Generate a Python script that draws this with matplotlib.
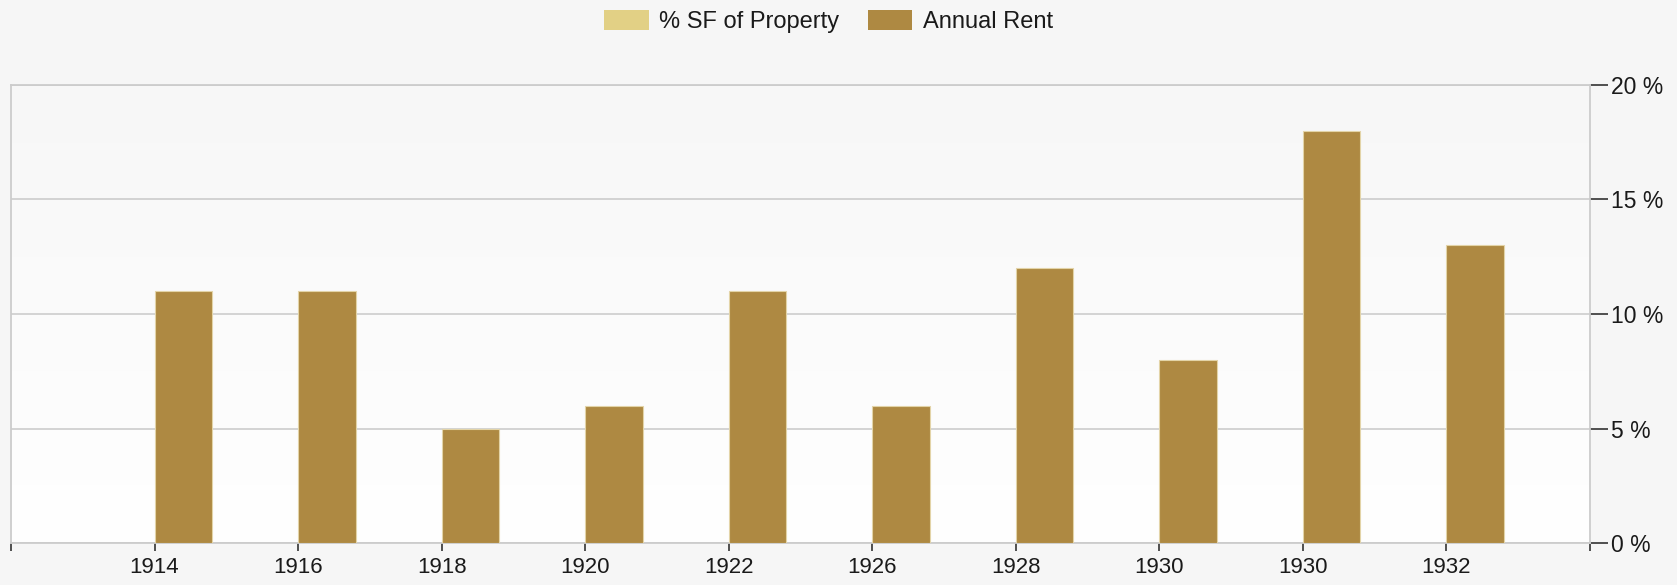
import numpy as np
import matplotlib.pyplot as plt
from matplotlib.patches import Patch
from matplotlib.colors import LinearSegmentedColormap

plt.rcParams['font.family'] = ['Liberation Sans', 'DejaVu Sans']

# Data
years = ['1914', '1916', '1918', '1920', '1922', '1926', '1928', '1930', '1930', '1932']
sf_of_property = [0, 0, 0, 0, 0, 0, 0, 0, 0, 0]
annual_rent = [11, 11, 5, 6, 11, 6, 12, 8, 18, 13]

sf_color = '#e2d085'
rent_color = '#ae8942'

fig = plt.figure(figsize=(16.77, 5.85), dpi=100, facecolor='#f6f6f6')
ax = fig.add_axes([11 / 1677, 42 / 585, 1579 / 1677, 458 / 585])

x = np.arange(len(years))
w = 0.4

# light vertical gradient background in plot area
grad = np.linspace(0, 1, 256).reshape(-1, 1)
bg = LinearSegmentedColormap.from_list('bg', ['#ffffff', '#f7f7f7'])
ax.imshow(grad, extent=[-1, 10, 0, 20], aspect='auto', cmap=bg, origin='lower', zorder=0)

ax.bar(x - w, sf_of_property, width=w, align='edge', color=sf_color, zorder=3)
ax.bar(x, annual_rent, width=w, align='edge', color=rent_color,
       edgecolor='#e3d4a8', linewidth=0.8, zorder=3)

ax.set_xlim(-0.98, 10.0)
ax.set_ylim(0, 20)

ax.set_xticks(np.arange(-1, 11))
ax.set_xticklabels([''] + years + [''], fontsize=16, color='#1a1a1a')
ax.tick_params(axis='x', length=6, width=1.2, color='#333333', pad=4)

ax.yaxis.tick_right()
ax.set_yticks([0, 5, 10, 15, 20])
ax.set_yticklabels([f'{v} %' for v in [0, 5, 10, 15, 20]], fontsize=16.5, color='#1a1a1a')
ax.tick_params(axis='y', length=13, width=1.2, color='#333333', pad=2)

ax.grid(axis='y', color='#d0d0d0', linewidth=1.3, zorder=1)
for s in ax.spines.values():
    s.set_color('#cccccc')
    s.set_linewidth(1.3)

handles = [Patch(facecolor=sf_color, label='% SF of Property'),
           Patch(facecolor=rent_color, label='Annual Rent')]
fig.legend(handles=handles, loc='center', bbox_to_anchor=(0.494, 0.963), ncol=2,
           frameon=False, fontsize=17, handlelength=1.9, handleheight=0.9,
           handletextpad=0.45, columnspacing=1.2, labelcolor='#1a1a1a')

fig.savefig('out.png', facecolor=fig.get_facecolor())
